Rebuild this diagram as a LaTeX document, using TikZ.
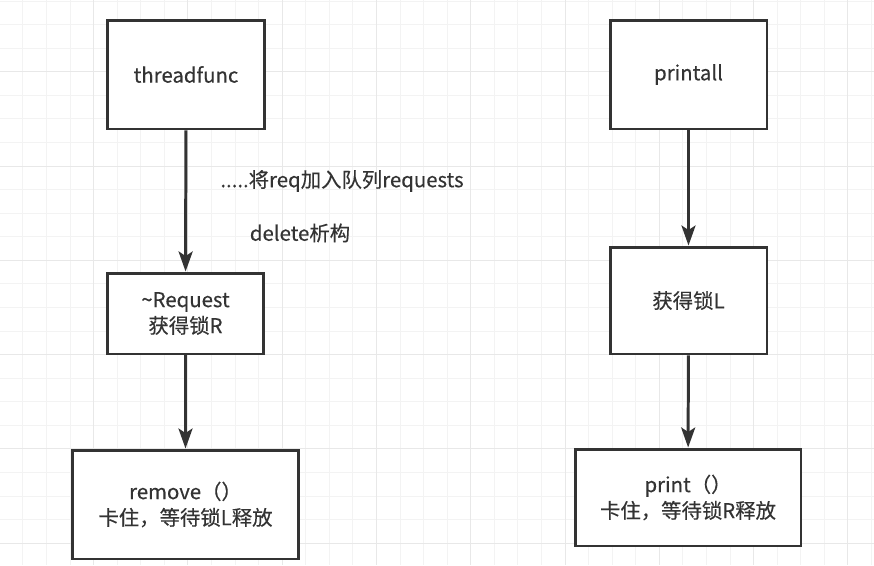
\documentclass[tikz,border=0pt]{standalone}
\usepackage{fontspec}
\setmainfont{Noto Sans CJK SC}[FakeBold=0.3]
\usepackage{tikz}
\usetikzlibrary{arrows.meta}
\definecolor{mydark}{RGB}{51,51,51}
\definecolor{gridminor}{RGB}{243,243,243}
\definecolor{gridmajor}{RGB}{232,232,232}
\tikzset{
  box/.style={rectangle, draw=mydark, fill=white, line width=1.7pt,
    align=center, font=\fontsize{11.6}{14.8}\selectfont, text=mydark},
  arrow/.style={-{Stealth[length=4mm, width=2.8mm, inset=0.9mm]}, line width=1.7pt, color=mydark},
  note/.style={font=\fontsize{11.6}{14.8}\selectfont, text=mydark},
  minorgrid/.style={line width=0.55pt, color=gridminor},
  majorgrid/.style={line width=0.55pt, color=gridmajor}
}

\begin{document}
\begin{tikzpicture}[x=0.02cm, y=-0.02cm]
  % ── background grid ─────────────────────────────────────────────────────
  \fill[white] (0,0) rectangle (874,565);
  \useasboundingbox (0,0) rectangle (874,565);
  \foreach \i in {1,...,37}
    \draw[minorgrid] ({-0.7+23.57*\i},0) -- ({-0.7+23.57*\i},565);
  \foreach \i in {0,...,23}
    \draw[minorgrid] (0,{1.1+23.57*\i}) -- (874,{1.1+23.57*\i});
  \foreach \i in {1,...,9}
    \draw[majorgrid] ({-0.7+94.28*\i},0) -- ({-0.7+94.28*\i},565);
  \foreach \i in {0,...,5}
    \draw[majorgrid] (0,{71.8+94.28*\i}) -- (874,{71.8+94.28*\i});
  % ── threadfunc (left) ───────────────────────────────────────────────────
  \node[box, minimum width=3.16cm, minimum height=2.18cm] (thread) at (186,74.5) {threadfunc};
  \node[box, minimum width=3.14cm, minimum height=1.62cm] (request) at (185.5,313.5) {\textasciitilde Request\\获得锁R};
  \node[box, minimum width=4.54cm, minimum height=2.18cm] (remove) at (185.5,504.5) {remove（）\\卡住，等待锁L释放};
  \node[note] (enqueue) at (342,181) {.....将req加入队列requests};
  \node[note] (delete) at (300,233) {delete析构};
  \draw[arrow] (thread) -- (request);
  \draw[arrow] (request) -- (remove);
  % ── printall (right) ────────────────────────────────────────────────────
  \node[box, minimum width=3.14cm, minimum height=2.18cm] (printall) at (688.5,74.5) {printall};
  \node[box, minimum width=3.14cm, minimum height=2.14cm] (lockL) at (688.5,300.5) {获得锁L};
  \node[box, minimum width=4.52cm, minimum height=1.94cm] (print) at (688,497.5) {print（）\\卡住，等待锁R释放};
  \draw[arrow] (printall) -- (lockL);
  \draw[arrow] (lockL) -- (print);
\end{tikzpicture}
\end{document}
